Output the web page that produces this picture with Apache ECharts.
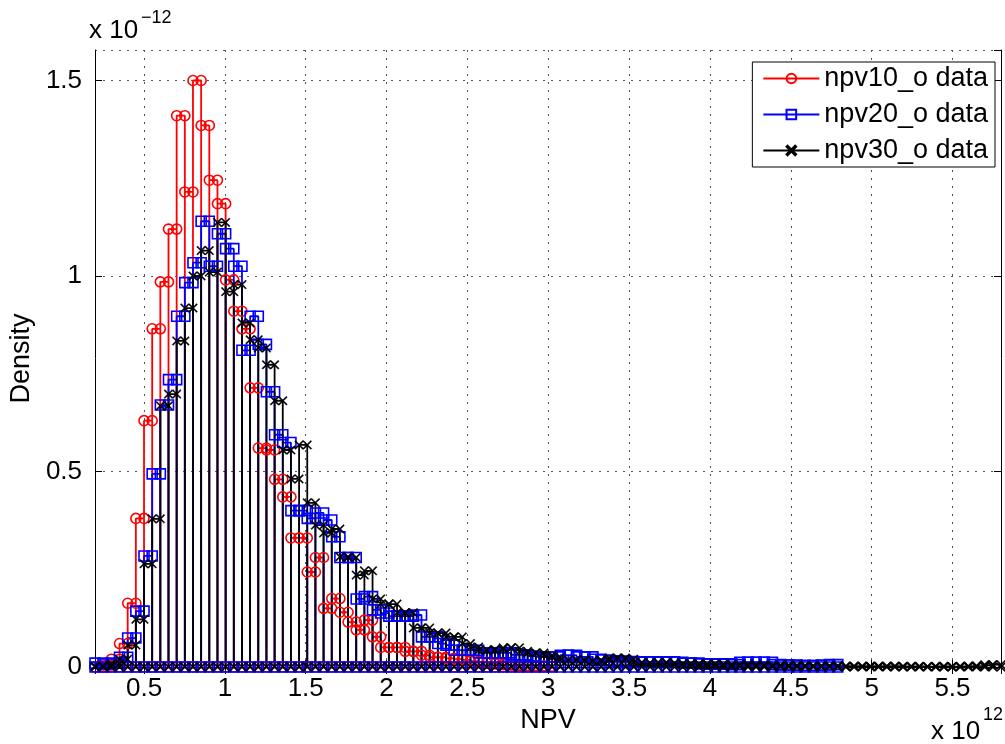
<!DOCTYPE html>
<html>
<head>
<meta charset="utf-8">
<script src="https://cdn.jsdelivr.net/npm/echarts@6.0.0/dist/echarts.min.js"></script>
<style>
  html, body { margin: 0; padding: 0; background: #fff; }
  #chart { width: 1005px; height: 744px; }
</style>
</head>
<body>
<div id="chart"></div>
<script>
// shared histogram bins (x 10^12)
const binStart = 0.197;
const binWidth = 0.05048;

// densities (x 10^-12), one value per bin
const npv10 = [
  0.0, 0.005, 0.02, 0.06, 0.163, 0.38, 0.63, 0.865, 0.985, 1.12,
  1.41, 1.215, 1.50, 1.385, 1.245, 1.185, 0.99, 0.91, 0.865, 0.714,
  0.56, 0.555, 0.48, 0.435, 0.33, 0.33, 0.243, 0.28, 0.15, 0.175,
  0.14, 0.115, 0.095, 0.12, 0.077, 0.05, 0.05, 0.05, 0.04, 0.04,
  0.03, 0.025, 0.025, 0.022, 0.02, 0.018, 0.015, 0.012, 0.01, 0.008,
  0.006, 0.005, 0.004, 0.004, 0.003, 0.002
];
const npv20 = [
  0.01, 0.008, 0.01, 0.025, 0.074, 0.143, 0.284, 0.494, 0.67, 0.735,
  0.897, 0.983, 1.034, 1.14, 1.025, 1.108, 1.07, 1.025, 0.81, 0.897,
  0.825, 0.704, 0.594, 0.574, 0.40, 0.40, 0.38, 0.394, 0.376, 0.333,
  0.28, 0.28, 0.174, 0.18, 0.146, 0.138, 0.13, 0.13, 0.13, 0.133,
  0.077, 0.077, 0.06, 0.056, 0.043, 0.043, 0.043, 0.036, 0.036, 0.036,
  0.036, 0.031, 0.031, 0.028, 0.026, 0.026, 0.026, 0.03, 0.03, 0.026,
  0.026, 0.02, 0.018, 0.016, 0.015, 0.014, 0.012, 0.013, 0.013, 0.012,
  0.013, 0.012, 0.01, 0.01, 0.008, 0.008, 0.007, 0.008, 0.006, 0.012,
  0.012, 0.012, 0.012, 0.006, 0.005, 0.005, 0.004, 0.004, 0.004, 0.005,
  0.006
];
const npv30 = [
  0.002, 0.003, 0.008, 0.02, 0.056, 0.122, 0.264, 0.379, 0.668, 0.698,
  0.834, 0.918, 1.0, 1.065, 1.01, 1.137, 0.96, 0.978, 0.88, 0.837,
  0.816, 0.773, 0.681, 0.555, 0.481, 0.568, 0.42, 0.363, 0.343, 0.353,
  0.282, 0.28, 0.235, 0.246, 0.174, 0.161, 0.161, 0.139, 0.139, 0.1,
  0.1, 0.087, 0.087, 0.077, 0.077, 0.06, 0.051, 0.043, 0.043, 0.045,
  0.049, 0.049, 0.04, 0.036, 0.036, 0.03, 0.025, 0.018, 0.018, 0.018,
  0.016, 0.015, 0.018, 0.023, 0.023, 0.02, 0.012, 0.01, 0.01, 0.012,
  0.01, 0.008, 0.008, 0.008, 0.006, 0.008, 0.007, 0.006, 0.005, 0.006,
  0.005, 0.005, 0.004, 0.004, 0.005, 0.004, 0.004, 0.003, 0.003, 0.003,
  0.003, 0.002, 0.002, 0.002, 0.002, 0.002, 0.002, 0.002, 0.002, 0.001,
  0.002, 0.001, 0.001, 0.002, 0.001, 0.001, 0.002, 0.002, 0.003, 0.006,
  0.006
];

const seriesNames = ["npv10_o data", "npv20_o data", "npv30_o data"];
const xTickLabels = ["0.5", "1", "1.5", "2", "2.5", "3", "3.5", "4", "4.5", "5", "5.5"];

const FONT = '"Liberation Sans", Arial, Helvetica, sans-serif';

// outline of the histogram: up, across, down for every bin
const stairs = heights => {
  const edge = i => binStart + i * binWidth;
  const pts = [[edge(0), 0]];
  heights.forEach((h, i) => {
    pts.push([edge(i), h], [edge(i + 1), h], [edge(i + 1), 0]);
  });
  return pts;
};

const crossPath =
  "path://M0,1L1,0L5,4L9,0L10,1L6,5L10,9L9,10L5,6L1,10L0,9L4,5Z";

const chart = echarts.init(document.getElementById("chart"));

const xMin = binStart;
const xMax = binStart + npv30.length * binWidth;

const makeSeries = (name, data, color, symbol, size, hollow) => ({
  name: name,
  type: "line",
  data: stairs(data),
  symbol: symbol,
  symbolSize: size,
  showSymbol: true,
  showAllSymbol: true,
  clip: false,
  lineStyle: { color: color, width: 1.8 },
  itemStyle: hollow
    ? { color: "rgba(0,0,0,0)", borderColor: color, borderWidth: 1.6 }
    : { color: color, borderColor: color, borderWidth: 0.4 },
  emphasis: { disabled: true },
  animation: false
});

const option = {
  backgroundColor: "#fff",
  animation: false,
  grid: { left: 89, right: 4, top: 50, bottom: 77 },
  legend: {
    orient: "vertical",
    right: 10,
    top: 62,
    backgroundColor: "#fff",
    borderColor: "#000",
    borderWidth: 1,
    padding: [3, 7, 3, 10],
    itemGap: 9,
    itemWidth: 56,
    itemHeight: 12,
    data: seriesNames,
    textStyle: { color: "#000", fontSize: 27, fontFamily: FONT }
  },
  xAxis: [
    {
      type: "value",
      min: xMin,
      max: xMax,
      splitNumber: 11,
      name: "NPV",
      nameLocation: "middle",
      nameGap: 38,
      nameTextStyle: { color: "#000", fontSize: 27, fontFamily: FONT },
      axisLine: { lineStyle: { color: "#000", width: 1 } },
      axisTick: { inside: true, length: 7, lineStyle: { color: "#000" } },
      axisLabel: {
        color: "#000",
        fontSize: 26,
        fontFamily: FONT,
        margin: 9,
        showMinLabel: false,
        showMaxLabel: false,
        formatter: v => {
          const s = String(Math.round(v * 10) / 10);
          return xTickLabels.indexOf(s) >= 0 ? s : "";
        }
      },
      splitLine: {
        show: true,
        lineStyle: { color: "#555", width: 1, type: [2, 6] }
      }
    },
    {
      type: "value",
      position: "top",
      min: xMin,
      max: xMax,
      splitNumber: 11,
      axisLine: { show: true, lineStyle: { color: "#000", width: 1 } },
      axisTick: { inside: true, length: 7, lineStyle: { color: "#000" } },
      axisLabel: { show: false },
      splitLine: { show: false }
    }
  ],
  yAxis: [
    {
      type: "value",
      min: 0,
      max: 1.578,
      interval: 0.5,
      name: "Density",
      nameLocation: "middle",
      nameGap: 58,
      nameTextStyle: { color: "#000", fontSize: 27, fontFamily: FONT },
      axisLine: { show: true, lineStyle: { color: "#000", width: 1 } },
      axisTick: { show: true, inside: true, length: 7, lineStyle: { color: "#000" } },
      axisLabel: {
        color: "#000",
        fontSize: 26,
        fontFamily: FONT,
        margin: 13,
        showMaxLabel: false
      },
      splitLine: {
        show: true,
        lineStyle: { color: "#555", width: 1, type: [2, 6] }
      }
    },
    {
      type: "value",
      position: "right",
      min: 0,
      max: 1.578,
      interval: 0.5,
      axisLine: { show: true, lineStyle: { color: "#000", width: 1 } },
      axisTick: { show: true, inside: true, length: 7, lineStyle: { color: "#000" } },
      axisLabel: { show: false },
      splitLine: { show: false }
    }
  ],
  series: [
    makeSeries(seriesNames[0], npv10, "#f00", "circle", 10, true),
    makeSeries(seriesNames[1], npv20, "#00f", "rect", 10, true),
    makeSeries(seriesNames[2], npv30, "#000", crossPath, 9, false)
  ],
  graphic: [
    {
      type: "text",
      left: 89,
      top: 18,
      style: { text: "x 10", fill: "#000", font: "26px " + FONT }
    },
    {
      type: "text",
      left: 141,
      top: 9,
      style: { text: "\u221212", fill: "#000", font: "18px " + FONT }
    },
    {
      type: "text",
      left: 931,
      top: 719,
      style: { text: "x 10", fill: "#000", font: "26px " + FONT }
    },
    {
      type: "text",
      left: 983,
      top: 706,
      style: { text: "12", fill: "#000", font: "18px " + FONT }
    }
  ]
};

chart.setOption(option);
</script>
</body>
</html>
